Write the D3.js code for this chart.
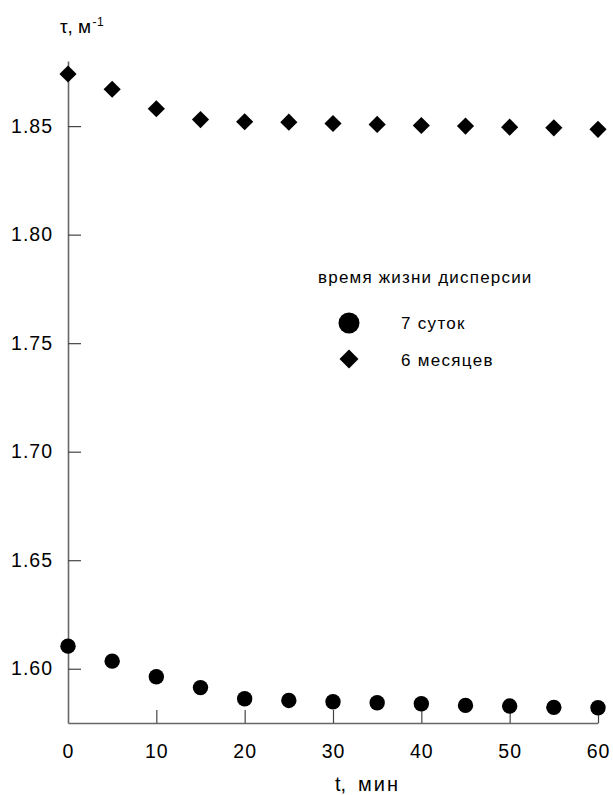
<!DOCTYPE html>
<meta charset="utf-8">
<script src="https://d3js.org/d3.v7.min.js"></script>
<style>
  body { margin: 0; background: #fff; }
  text { font-family: "Liberation Sans", Arial, sans-serif; }
</style>
<body>
<div id="chart"></div>
<script>

// data
var times = [0, 5, 10, 15, 20, 25, 30, 35, 40, 45, 50, 55, 60];
var days7 = [1.6104, 1.6035, 1.5963, 1.5913, 1.5862, 1.5854, 1.5848, 1.5843, 1.5839, 1.5831, 1.5828, 1.5822, 1.5820];
var months6 = [1.874, 1.867, 1.858, 1.853, 1.852, 1.8518, 1.8512, 1.8508, 1.8503, 1.850, 1.8495, 1.8492, 1.8485];
var xTicks = [0, 10, 20, 30, 40, 50, 60];
var yTicks = [1.60, 1.65, 1.70, 1.75, 1.80, 1.85];
var legendLabels = ["7 суток", "6 месяцев"];

var width = 613, height = 795;

var svg = d3.select("#chart")
  .append("svg")
    .attr("width", width)
    .attr("height", height);

var x = d3.scaleLinear().domain([0, 60]).range([68, 598]);
var y = d3.scaleLinear().domain([1.575, 1.88]).range([723, 61]);

// y axis, ticks point inward
var yAxis = svg.append("g")
  .attr("transform", "translate(" + x(0) + ",0)")
  .call(d3.axisLeft(y).tickValues(yTicks).tickFormat(d3.format(".2f"))
    .tickSizeInner(-13).tickSizeOuter(0).tickPadding(15));

// x axis, ticks point up
var xAxis = svg.append("g")
  .attr("transform", "translate(0," + y.range()[0] + ")")
  .call(d3.axisBottom(x).tickValues(xTicks).tickFormat(d3.format("d"))
    .tickSizeInner(-13).tickSizeOuter(0).tickPadding(21));

[xAxis, yAxis].forEach(function(a) {
  a.select(".domain").attr("stroke", "#666").attr("stroke-width", 1.6);
  a.selectAll(".tick line").attr("stroke", "#444").attr("stroke-width", 1.2);
  a.selectAll(".tick text").attr("fill", "#000")
    .style("font-size", "19.5px")
    .style("letter-spacing", "1px")
    .style("font-family", "'Liberation Sans', Arial, sans-serif");
});
xAxis.selectAll(".tick").filter(function(d) { return d === 0; }).select("line").remove();

// markers
svg.append("g").selectAll("circle")
  .data(times.map(function(t, i) { return [t, days7[i]]; }))
  .enter().append("circle")
    .attr("cx", function(d) { return x(d[0]); })
    .attr("cy", function(d) { return y(d[1]); })
    .attr("r", 7.7)
    .attr("fill", "#000");

svg.append("g").selectAll("path")
  .data(times.map(function(t, i) { return [t, months6[i]]; }))
  .enter().append("path")
    .attr("d", d3.symbol().type(d3.symbolDiamond2).size(188))
    .attr("transform", function(d) { return "translate(" + x(d[0]) + "," + y(d[1]) + ")"; })
    .attr("fill", "#000");

// axis titles
svg.append("text")
  .attr("x", 60)
  .attr("y", 33)
  .style("font-size", "19px")
  .text("τ,");
var yTitle = svg.append("text")
  .attr("x", 78)
  .attr("y", 33)
  .style("font-size", "19px")
  .style("letter-spacing", "0.5px")
  .text("м");
yTitle.append("tspan")
  .attr("dy", -7)
  .attr("dx", 1)
  .style("font-size", "12px")
  .text("-1");

var xTitle = svg.append("text")
  .attr("x", 335)
  .attr("y", 791)
  .style("font-size", "20px")
  .text("t,");
xTitle.append("tspan")
  .attr("x", 358)
  .style("letter-spacing", "2px")
  .text("мин");

// legend
svg.append("text")
  .attr("x", 318)
  .attr("y", 283)
  .style("font-size", "17px")
  .style("letter-spacing", "1.2px")
  .text("время жизни дисперсии");

svg.append("circle")
  .attr("cx", 349).attr("cy", 323).attr("r", 10.5).attr("fill", "#000");
svg.append("path")
  .attr("d", d3.symbol().type(d3.symbolDiamond2).size(229))
  .attr("transform", "translate(349,359)")
  .attr("fill", "#000");

svg.selectAll(".leg")
  .data(legendLabels)
  .enter().append("text")
    .attr("class", "leg")
    .attr("x", 401)
    .attr("y", function(d, i) { return 329 + i * 37; })
    .style("font-size", "17px")
    .style("letter-spacing", "1.3px")
    .text(function(d) { return d; });

</script>
</body>
